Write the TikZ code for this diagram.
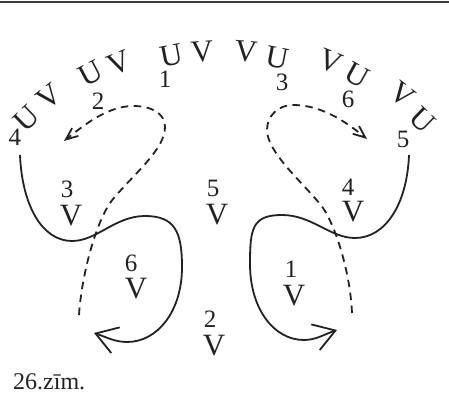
\documentclass[tikz,border=0pt]{standalone}
\usepackage{fontspec}
\setmainfont{Liberation Serif}
\usetikzlibrary{arrows.meta}
\definecolor{ink}{HTML}{222222}
\definecolor{rulegray}{HTML}{3A3A3A}
\begin{document}
\begin{tikzpicture}[x=1pt,y=-1pt,
  lett/.style={inner sep=0pt,text=ink,font=\fontsize{31}{31}\selectfont},
  num/.style={inner sep=0pt,text=ink,font=\fontsize{25}{25}\selectfont},
  solidpath/.style={draw=ink,line width=1.8pt,-{Straight Barb[length=21pt,width=27pt,line width=1.8pt]}},
  dashpath/.style={draw=ink,line width=1.8pt,dash pattern=on 7.5pt off 5.5pt,-{Straight Barb[length=12pt,width=10pt,line width=1.8pt]}}]
\useasboundingbox (0,0) rectangle (449,398);
\draw[rulegray,line width=2pt] (0,2) -- (449,2);
% arc letters
\node[lett,rotate=44] (u1) at (27,119) {U};
\node[lett,rotate=38] (v1) at (49,97) {V};
\node[lett,rotate=28] (u2) at (91,73) {U};
\node[lett,rotate=22] (v2) at (119,63) {V};
\node[lett,rotate=11] (u3) at (172,56) {U};
\node[lett,rotate=4] (v3) at (202,52) {V};
\node[lett,rotate=-5] (v4) at (246,52) {V};
\node[lett,rotate=-11] (u4) at (277,58) {U};
\node[lett,rotate=-22] (v5) at (331,62) {V};
\node[lett,rotate=-29] (u5) at (357,75) {U};
\node[lett,rotate=-38] (v6) at (402,95) {V};
\node[lett,rotate=-44] (u6) at (422,120) {U};
% top digits
\node[num] (t4) at (15,137) {4};
\node[num] (t2) at (98,101) {2};
\node[num] (t1) at (165,79) {1};
\node[num] (t3) at (282,82) {3};
\node[num] (t6) at (348,99) {6};
\node[num] (t5) at (403,139) {5};
% inner labels
\node[num] (m3) at (67,189) {3};
\node[lett] (mv3) at (71,216) {V};
\node[num] (m5) at (213,188) {5};
\node[lett] (mv5) at (217,215) {V};
\node[num] (m4) at (348,187) {4};
\node[lett] (mv4) at (353,212) {V};
\node[num] (m6) at (131,263) {6};
\node[lett] (mv6) at (136,289) {V};
\node[num] (m1) at (291,269) {1};
\node[lett] (mv1) at (294,296) {V};
\node[num] (m2) at (210,319) {2};
\node[lett] (mv2) at (214,346) {V};
% caption
\node[anchor=base west,inner sep=0pt,text=ink,font=\fontsize{24}{24}\selectfont] (cap) at (13,389) {26.zīm.};
% coordinates
\coordinate (L0) at (20,155);
\coordinate (L1) at (72,241);
\coordinate (L2) at (145,216);
\coordinate (L3) at (182,267);
\coordinate (L4) at (127,342);
\coordinate (L5) at (94,333);
\coordinate (R0) at (409,155);
\coordinate (R1) at (355,238);
\coordinate (R2) at (282,215);
\coordinate (R3) at (250,264);
\coordinate (R4) at (304,340);
\coordinate (R5) at (337,330);
\coordinate (A0) at (79,315);
\coordinate (A1) at (113,199);
\coordinate (A2) at (165,127);
\coordinate (A3) at (133,106);
\coordinate (A4) at (64,141);
\coordinate (B0) at (352,313);
\coordinate (B1) at (320,204);
\coordinate (B2) at (267,130);
\coordinate (B3) at (293,105);
\coordinate (B4) at (367,139);
% solid curves
\draw[solidpath] (L0) .. controls +(2,50) and +(-30,0) .. (L1)
  .. controls +(25,0) and +(-30,0) .. (L2)
  .. controls +(30,0) and +(0,-35) .. (L3)
  .. controls +(0,45) and +(30,0) .. (L4)
  .. controls +(-12,0) and +(12,4) .. (L5);
\draw[solidpath] (R0) .. controls +(-2,50) and +(30,0) .. (R1)
  .. controls +(-25,0) and +(30,0) .. (R2)
  .. controls +(-30,0) and +(0,-35) .. (R3)
  .. controls +(0,45) and +(-30,0) .. (R4)
  .. controls +(12,0) and +(-12,4) .. (R5);
% dashed curves
\draw[dashpath] (A0) .. controls +(3,-45) and +(-15,18) .. (A1)
  .. controls +(22,-26) and +(0,22) .. (A2)
  .. controls +(0,-14) and +(18,0) .. (A3)
  .. controls +(-25,0) and +(20,-16) .. (A4);
\draw[dashpath] (B0) .. controls +(-2,-45) and +(13,15) .. (B1)
  .. controls +(-18,-22) and +(0,22) .. (B2)
  .. controls +(0,-14) and +(-15,0) .. (B3)
  .. controls +(28,0) and +(-22,-18) .. (B4);
\end{tikzpicture}
\end{document}
